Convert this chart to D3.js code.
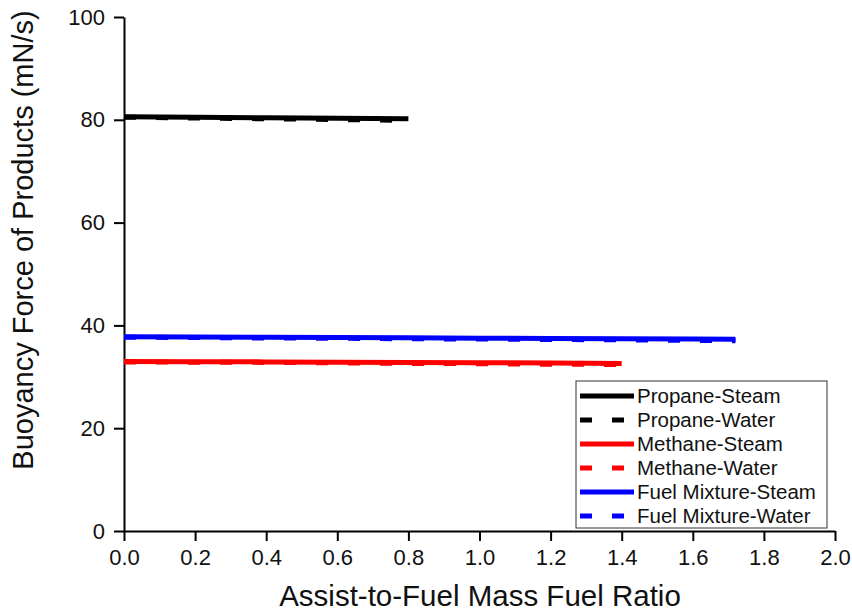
<!DOCTYPE html>
<html>
<head>
<meta charset="utf-8">
<script src="https://cdn.jsdelivr.net/npm/d3@7"></script>
<style>
  body { margin: 0; background: #fff; }
  svg { display: block; font-family: "Liberation Sans", Arial, sans-serif; }
</style>
</head>
<body>
<svg id="chart" width="852" height="614"></svg>
<script>
// Assist-to-fuel mass ratio sample points for each fuel
const propaneX = [0.0, 0.2, 0.4, 0.6, 0.8];
const methaneX = [0.0, 0.2, 0.4, 0.6, 0.8, 1.0, 1.2, 1.4];
const mixtureX = [0.0, 0.2, 0.4, 0.6, 0.8, 1.0, 1.2, 1.4, 1.6, 1.72];

// Buoyancy force of products (mN/s)
const propaneSteam = [80.6, 80.5, 80.4, 80.3, 80.2];
const propaneWater = [80.5, 80.35, 80.2, 80.05, 79.9];
const methaneSteam = [33.0, 32.95, 32.9, 32.85, 32.8, 32.75, 32.7, 32.6];
const methaneWater = [32.9, 32.85, 32.8, 32.7, 32.6, 32.55, 32.45, 32.4];
const mixtureSteam = [37.8, 37.75, 37.7, 37.65, 37.6, 37.5, 37.45, 37.4, 37.35, 37.3];
const mixtureWater = [37.7, 37.65, 37.55, 37.5, 37.4, 37.35, 37.25, 37.2, 37.1, 37.0];

const seriesNames = ["Propane-Steam", "Propane-Water", "Methane-Steam", "Methane-Water",
                     "Fuel Mixture-Steam", "Fuel Mixture-Water"];
const seriesColors = ["#000000", "#000000", "#ff0000", "#ff0000", "#0000ff", "#0000ff"];
const seriesDashed = [false, true, false, true, false, true];

const xTicks = [0, 0.2, 0.4, 0.6, 0.8, 1.0, 1.2, 1.4, 1.6, 1.8, 2.0];
const yTicks = [0, 20, 40, 60, 80, 100];

const series = [
  { x: propaneX, y: propaneSteam },
  { x: propaneX, y: propaneWater },
  { x: methaneX, y: methaneSteam },
  { x: methaneX, y: methaneWater },
  { x: mixtureX, y: mixtureSteam },
  { x: mixtureX, y: mixtureWater }
].map((s, i) => ({
  name: seriesNames[i], color: seriesColors[i], dashed: seriesDashed[i],
  points: s.x.map((xv, j) => [xv, s.y[j]])
}));

const svg = d3.select("#chart");
const m = { left: 124, right: 835, top: 17, bottom: 531 };

const x = d3.scaleLinear().domain([0, 2]).range([m.left, m.right]);
const y = d3.scaleLinear().domain([0, 100]).range([m.bottom, m.top]);

// Minor ticks
const xMinor = d3.range(0, 2.0001, 0.1);
const yMinor = d3.range(0, 100.001, 10);

const gx = svg.append("g").attr("transform", `translate(0,${m.bottom})`);
gx.call(d3.axisBottom(x).tickValues(xMinor).tickSize(5).tickFormat(""))
  .call(g => g.select(".domain").remove());
gx.call(d3.axisBottom(x).tickValues(xTicks).tickSize(10).tickSizeOuter(0)
  .tickFormat(d3.format(".1f")));
gx.selectAll("line").attr("stroke", "#000").attr("stroke-width", 2);
gx.select(".domain").attr("stroke", "#000").attr("stroke-width", 2);
gx.selectAll("text").attr("font-size", 22).attr("fill", "#111").attr("y", 18)
  .attr("font-family", "Liberation Sans, Arial, sans-serif");

const gy = svg.append("g").attr("transform", `translate(${m.left},0)`);
gy.call(d3.axisLeft(y).tickValues(yMinor).tickSize(5).tickFormat(""))
  .call(g => g.select(".domain").remove());
gy.call(d3.axisLeft(y).tickValues(yTicks).tickSize(10).tickSizeOuter(0));
gy.selectAll("line").attr("stroke", "#000").attr("stroke-width", 2);
gy.select(".domain").attr("stroke", "#000").attr("stroke-width", 2);
gy.selectAll("text").attr("font-size", 22).attr("fill", "#111").attr("x", -19)
  .attr("font-family", "Liberation Sans, Arial, sans-serif");

// Axis titles
svg.append("text")
  .attr("x", 480).attr("y", 606)
  .attr("text-anchor", "middle").attr("font-size", 29.5).attr("fill", "#111")
  .text("Assist-to-Fuel Mass Fuel Ratio");
svg.append("text")
  .attr("transform", `translate(33,240) rotate(-90)`)
  .attr("text-anchor", "middle").attr("font-size", 29).attr("fill", "#111")
  .text("Buoyancy Force of Products (mN/s)");

// Data lines
const line = d3.line().x(d => x(d[0])).y(d => y(d[1]));
svg.append("g").selectAll("path").data(series).join("path")
  .attr("d", d => line(d.points))
  .attr("fill", "none")
  .attr("stroke", d => d.color)
  .attr("stroke-width", 5)
  .attr("stroke-dasharray", d => d.dashed ? "12 20" : null);

// Legend
const lg = svg.append("g").attr("transform", "translate(576,381)");
lg.append("rect").attr("width", 251).attr("height", 147)
  .attr("fill", "#fff").attr("stroke", "#333").attr("stroke-width", 1);
const rows = lg.selectAll("g.row").data(series).join("g")
  .attr("class", "row")
  .attr("transform", (d, i) => `translate(0,${15 + i * 24})`);
rows.append("line")
  .attr("x1", 4).attr("x2", 58).attr("y1", 0).attr("y2", 0)
  .attr("stroke", d => d.color).attr("stroke-width", 5)
  .attr("stroke-dasharray", d => d.dashed ? "12 20" : null);
rows.append("text")
  .attr("x", 61).attr("y", 7).attr("font-size", 20.5).attr("fill", "#111")
  .text(d => d.name);
</script>
</body>
</html>
